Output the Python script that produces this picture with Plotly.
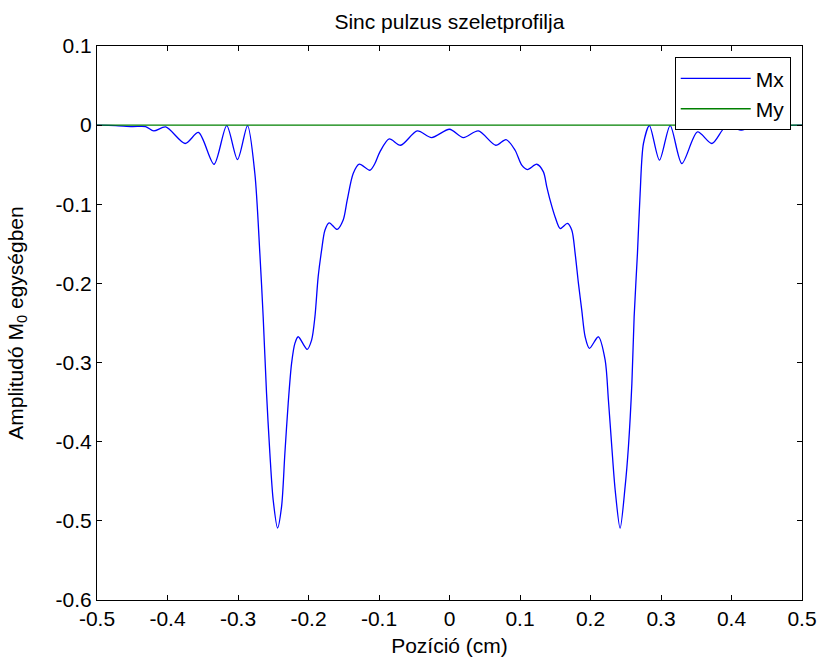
import plotly.graph_objects as go

# Slice profile of a sinc RF pulse: position (cm) vs. magnetisation components
position_cm = [
    -0.5, -0.4735, -0.45, -0.431, -0.4195, -0.4025, -0.375, -0.356, -0.334,
    -0.316, -0.3007, -0.2865, -0.2761, -0.269, -0.2643, -0.2595, -0.2548,
    -0.2501, -0.2439, -0.2382, -0.2335, -0.2288, -0.224, -0.2193, -0.2146,
    -0.2019, -0.1956, -0.1909, -0.1863, -0.1814, -0.1767, -0.1706, -0.1593,
    -0.1508, -0.1451, -0.1366, -0.128, -0.1129, -0.1058, -0.0987, -0.0855,
    -0.0693, -0.0457, -0.0253, 0.0, 0.0196, 0.0409, 0.0656, 0.0802, 0.093,
    0.1025, 0.1105, 0.1238, 0.1332, 0.138, 0.1427, 0.1498, 0.157, 0.1672,
    0.1735, 0.1782, 0.1829, 0.1876, 0.1924, 0.1985, 0.2112, 0.2208, 0.2254,
    0.2302, 0.235, 0.242, 0.2491, 0.2538, 0.2587, 0.2619, 0.2666, 0.2704,
    0.2751, 0.2836, 0.2978, 0.313, 0.3296, 0.3518, 0.3722, 0.3925, 0.4148,
    0.4266, 0.45, 0.4735, 0.5,
]

mx = [
    0.0, -0.0005, -0.0018, -0.0018, -0.0073, -0.0023, -0.0232, -0.0093, -0.0494,
    -0.0005, -0.0434, -0.0005, -0.0611, -0.162, -0.242, -0.339, -0.4146,
    -0.4736, -0.509, -0.482, -0.4146, -0.3515, -0.301, -0.2758, -0.2674,
    -0.2833, -0.2716, -0.2422, -0.1917, -0.158, -0.1327, -0.1235, -0.1318,
    -0.12, -0.0948, -0.0611, -0.0494, -0.057, -0.0485, -0.0338, -0.0174,
    -0.0254, -0.0073, -0.0157, -0.0052, -0.0157, -0.0073, -0.0254, -0.0182, -0.0317,
    -0.0506, -0.0561, -0.0494, -0.059, -0.078, -0.0948, -0.116, -0.1306, -0.1242,
    -0.1327, -0.162, -0.2, -0.2337, -0.2674, -0.282, -0.2674, -0.2968, -0.3473,
    -0.4063, -0.461, -0.5093, -0.4568, -0.4063, -0.3263, -0.2422, -0.162, -0.0864,
    -0.0232, -0.0005, -0.0443, -0.0005, -0.0485, -0.0086, -0.0232, -0.0014, -0.0064,
    -0.0023, -0.0018, -0.0005, 0.0,
]

my = [0.0] * len(position_cm)

x_ticks = [-0.5, -0.4, -0.3, -0.2, -0.1, 0, 0.1, 0.2, 0.3, 0.4, 0.5]
x_tick_labels = ["-0.5", "-0.4", "-0.3", "-0.2", "-0.1", "0", "0.1", "0.2", "0.3", "0.4", "0.5"]
y_ticks = [0.1, 0, -0.1, -0.2, -0.3, -0.4, -0.5, -0.6]
y_tick_labels = ["0.1", "0", "-0.1", "-0.2", "-0.3", "-0.4", "-0.5", "-0.6"]

FONT = "Liberation Sans, Arial, sans-serif"
FS = 21

fig = go.Figure()
fig.add_trace(go.Scatter(
    x=position_cm, y=mx, name="Mx", mode="lines",
    line=dict(color="#0000ff", width=1.3, shape="spline", smoothing=0.8),
))
fig.add_trace(go.Scatter(
    x=position_cm, y=my, name="My", mode="lines",
    line=dict(color="#008000", width=1.3),
))

axis_common = dict(
    showline=True, linecolor="black", linewidth=1, mirror="ticks",
    ticks="inside", ticklen=5, tickcolor="black", showgrid=False,
    zeroline=False, automargin=False,
    tickfont=dict(family=FONT, size=FS, color="black"),
)

fig.update_layout(
    width=819, height=660,
    margin=dict(l=97, r=17, t=46, b=60),
    paper_bgcolor="white", plot_bgcolor="white",
    font=dict(family=FONT, size=FS, color="black"),
    title=dict(text="Sinc pulzus szeletprofilja", x=0.5487, xanchor="center",
               y=1 - 22 / 660, yanchor="middle", yref="container",
               font=dict(family=FONT, size=FS, color="black")),
    xaxis=dict(range=[-0.5, 0.5], tickvals=x_ticks, ticktext=x_tick_labels,
               title=dict(text="Pozíció (cm)", standoff=9,
                          font=dict(family=FONT, size=FS)),
               **axis_common),
    yaxis=dict(range=[-0.6, 0.1], tickvals=y_ticks, ticktext=y_tick_labels,
               title=dict(text="Amplitudó M<sub>0</sub> egységben", standoff=26,
                          font=dict(family=FONT, size=FS)),
               **axis_common),
    legend=dict(x=0.984, y=0.9796, xanchor="right", yanchor="top",
                bgcolor="white", bordercolor="black", borderwidth=1,
                font=dict(family=FONT, size=FS), itemwidth=70),
    showlegend=True,
)

fig.write_html("out.html")
